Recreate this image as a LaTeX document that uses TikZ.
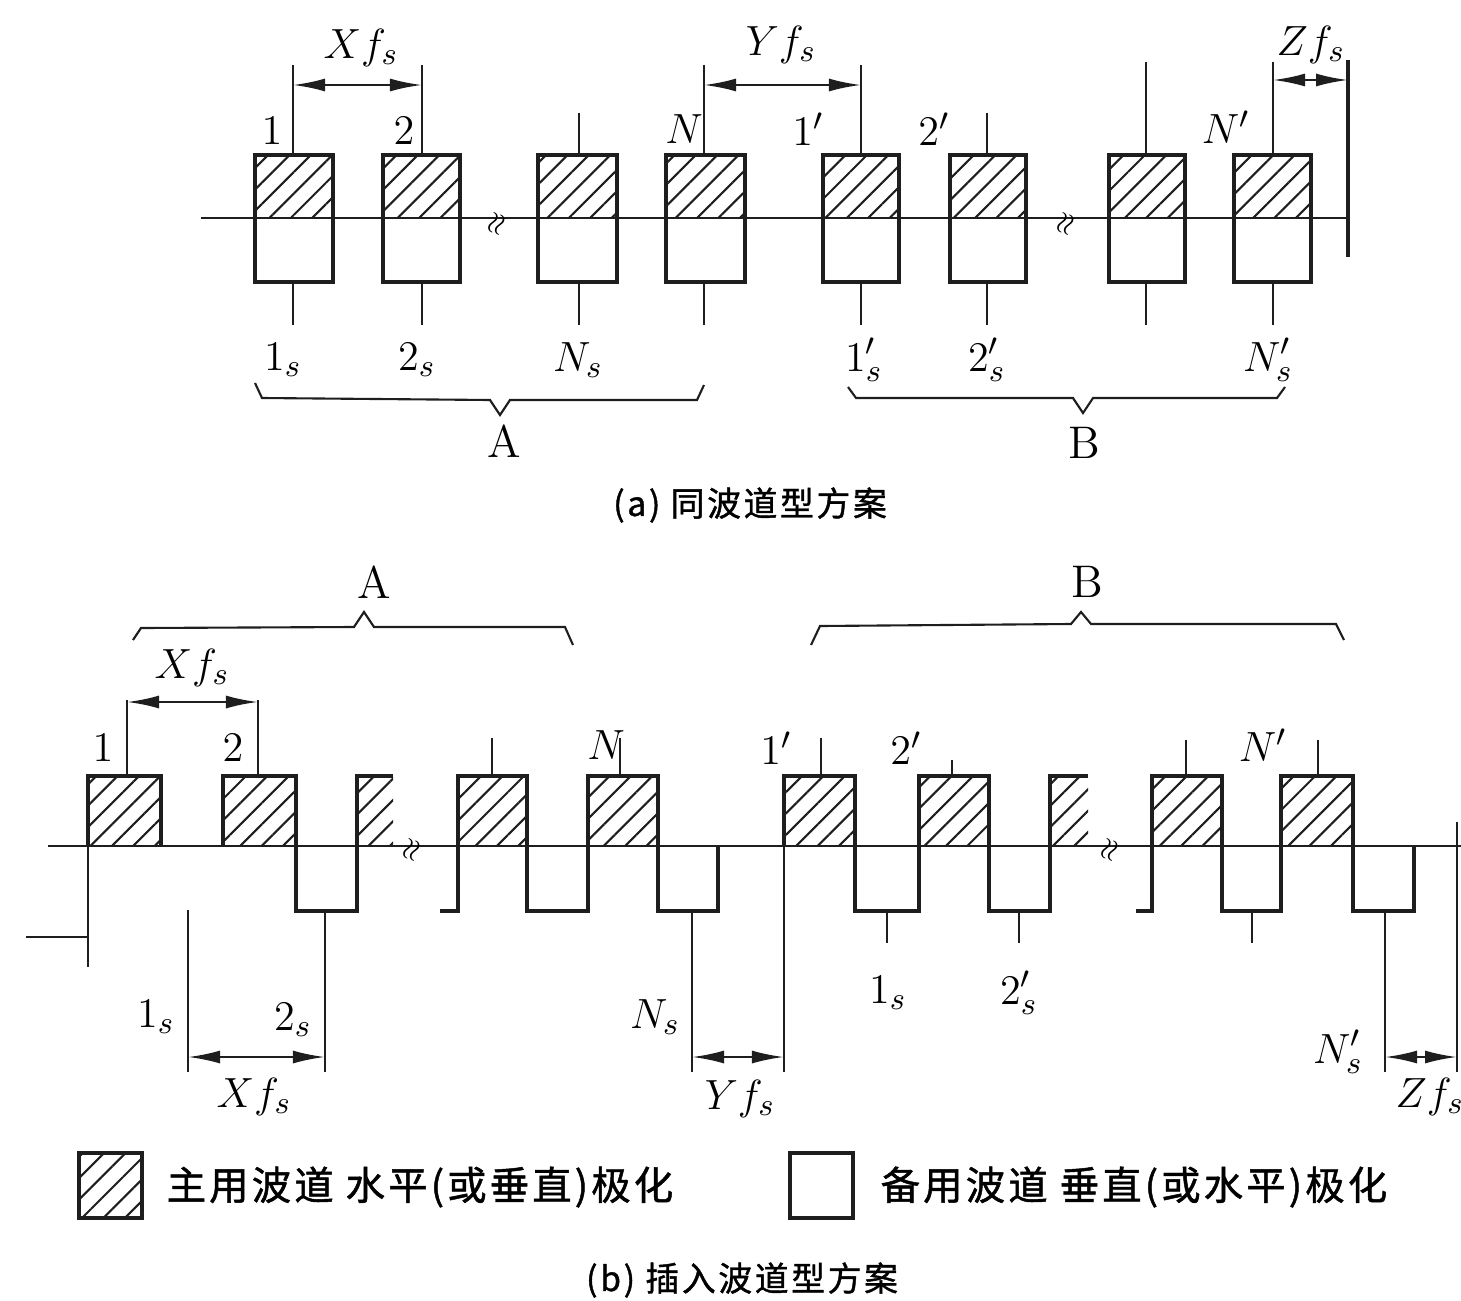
\documentclass[tikz,border=0pt]{standalone}
\usepackage{fontspec}
\newfontfamily\cjk[LetterSpace=8,FakeBold=1.2]{Noto Sans CJK SC}
\usetikzlibrary{arrows.meta,patterns.meta}
\definecolor{inkline}{HTML}{1E1E1E}

\begin{document}
\begin{tikzpicture}[x=0.01cm, y=-0.01cm,
  boxline/.style={draw=inkline, line width=1pt},
  axisline/.style={draw=inkline, line width=0.7pt},
  tickline/.style={draw=inkline, line width=0.6pt},
  hatch/.style={pattern={Lines[angle=45,distance=4.3pt,line width=0.6pt]}, pattern color=inkline},
  dimarrow/.style={{Latex[length=3.2mm,width=1.3mm]}-{Latex[length=3.2mm,width=1.3mm]}, draw=inkline, line width=0.7pt},
  lbl/.style={inner sep=0pt, font=\fontsize{13}{15}\selectfont},
  brk/.style={inner sep=0pt, font=\footnotesize, rotate=70},
  captext/.style={inner sep=0pt, font=\cjk\fontsize{9.6}{12}\selectfont},
  legtext/.style={inner sep=0pt, anchor=west, font=\cjk\fontsize{11.2}{14}\selectfont}]

  \useasboundingbox (0,0) rectangle (1461,1300);

  % (a) same-channel scheme: boxes across the axis
  \foreach \l/\r/\t/\h in {255/333/293/65, 383/460/422/65, 538/617/579/113, 666/745/704/65,
                            823/899/861/65, 950/1026/987/113, 1109/1185/1146/62, 1234/1311/1273/62}{
    \fill[hatch] (\l,155) rectangle (\r,218);
    \draw[boxline] (\l,155) rectangle (\r,282);
    \draw[tickline] (\t,\h) -- (\t,155);
    \draw[tickline] (\t,282) -- (\t,325);
  }
  \draw[axisline] (201,218) -- (1348,218);
  \draw[boxline] (1348,60) -- (1348,257);
  \node[brk] (brka1) at (497,224) {$\approx$};
  \node[brk] (brka2) at (1066,224) {$\approx$};

  % (a) spacings
  \coordinate (xa1) at (293,85);
  \coordinate (xa2) at (422,85);
  \coordinate (ya1) at (704,85);
  \coordinate (ya2) at (861,85);
  \coordinate (za1) at (1273,80);
  \coordinate (za2) at (1348,80);
  \draw[dimarrow] (xa1) -- (xa2);
  \draw[dimarrow] (ya1) -- (ya2);
  \draw[dimarrow] (za1) -- (za2);
  \node[lbl] (xfa) at (361,48) {$Xf_s$};
  \node[lbl] (yfa) at (781,45) {$Yf_s$};
  \node[lbl] (zfa) at (1311,45) {$Zf_s$};

  % (a) channel labels
  \node[lbl] (a1) at (272,131) {$1$};
  \node[lbl] (a2) at (404,131) {$2$};
  \node[lbl] (aN) at (684,129) {$N$};
  \node[lbl] (a1p) at (808,129) {$1'$};
  \node[lbl] (a2p) at (934,129) {$2'$};
  \node[lbl] (aNp) at (1226,127) {$N'$};
  \node[lbl] (a1s) at (283,360) {$1_s$};
  \node[lbl] (a2s) at (417,360) {$2_s$};
  \node[lbl] (aNs) at (578,360) {$N_s$};
  \node[lbl] (a1ps) at (864,360) {$1'_s$};
  \node[lbl] (a2ps) at (987,360) {$2'_s$};
  \node[lbl] (aNps) at (1268,360) {$N'_s$};

  % (a) braces
  \draw[tickline] (255,383) -- (262,398) -- (490,400) -- (500,415) -- (510,400) -- (697,400) -- (704,385);
  \draw[tickline] (848,387) -- (856,398) -- (1073,398) -- (1083,413) -- (1093,398) -- (1277,398) -- (1285,387);
  \node[lbl] (grpa) at (504,441) {A};
  \node[lbl] (grpb) at (1084,443) {B};
  \node[captext] (capa) at (750,505) {(a) 同波道型方案};

  % (b) interleaved scheme: hatched boxes above the axis
  \foreach \l/\r/\t/\h in {88/161/127/700, 223/296/258/700, 458/527/492/738, 588/658/620/738,
                            784/855/821/738, 919/989/952/760, 1152/1222/1186/740, 1281/1353/1318/740}{
    \fill[hatch] (\l,776) rectangle (\r,846);
    \draw[boxline] (\l,846) -- (\l,776) -- (\r,776) -- (\r,846);
    \draw[tickline] (\t,\h) -- (\t,776);
  }
  % cut boxes before the breaks
  \fill[hatch] (357,776) rectangle (393,846);
  \draw[boxline] (357,846) -- (357,776) -- (393,776);
  \fill[hatch] (1050,776) rectangle (1088,846);
  \draw[boxline] (1050,846) -- (1050,776) -- (1088,776);

  % (b) white boxes below the axis
  \foreach \l/\r in {296/357, 527/588, 658/718, 855/919, 989/1050, 1222/1281, 1353/1414}{
    \draw[boxline] (\l,846) -- (\l,911) -- (\r,911) -- (\r,846);
  }
  \draw[boxline] (440,911) -- (458,911) -- (458,846);
  \draw[boxline] (1136,911) -- (1152,911) -- (1152,846);
  \foreach \t in {887, 1019, 1252}{
    \draw[tickline] (\t,911) -- (\t,943);
  }
  \foreach \t in {325, 692, 1385}{
    \draw[tickline] (\t,911) -- (\t,1072);
  }
  \draw[axisline] (48,846) -- (1461,846);
  \draw[tickline] (88,846) -- (88,967);
  \draw[tickline] (26,937) -- (88,937);
  \draw[tickline] (188,910) -- (188,1072);
  \draw[tickline] (784,846) -- (784,1072);
  \draw[tickline] (1457,822) -- (1457,1072);
  \node[brk] (brkb1) at (412,850) {$\approx$};
  \node[brk] (brkb2) at (1110,850) {$\approx$};

  % (b) spacings
  \coordinate (xb1) at (127,702);
  \coordinate (xb2) at (258,702);
  \coordinate (xc1) at (188,1057);
  \coordinate (xc2) at (325,1057);
  \coordinate (yb1) at (692,1057);
  \coordinate (yb2) at (784,1057);
  \coordinate (zb1) at (1385,1057);
  \coordinate (zb2) at (1457,1057);
  \draw[dimarrow] (xb1) -- (xb2);
  \draw[dimarrow] (xc1) -- (xc2);
  \draw[dimarrow] (yb1) -- (yb2);
  \draw[dimarrow] (zb1) -- (zb2);
  \node[lbl] (xfb) at (192,668) {$Xf_s$};
  \node[lbl] (xfc) at (254,1097) {$Xf_s$};
  \node[lbl] (yfb) at (740,1099) {$Yf_s$};
  \node[lbl] (zfb) at (1430,1097) {$Zf_s$};

  % (b) channel labels
  \node[lbl] (b1) at (103,748) {$1$};
  \node[lbl] (b2) at (233,748) {$2$};
  \node[lbl] (bN) at (606,745) {$N$};
  \node[lbl] (b1p) at (776,748) {$1'$};
  \node[lbl] (b2p) at (906,748) {$2'$};
  \node[lbl] (bNp) at (1263,745) {$N'$};
  \node[lbl] (b1s) at (156,1017) {$1_s$};
  \node[lbl] (b2s) at (293,1020) {$2_s$};
  \node[lbl] (bNs) at (655,1017) {$N_s$};
  \node[lbl] (b1ps) at (888,993) {$1_s$};
  \node[lbl] (b2ps) at (1019,993) {$2'_s$};
  \node[lbl] (bNps) at (1338,1052) {$N'_s$};

  % (b) braces
  \draw[tickline] (133,640) -- (141,628) -- (354,627) -- (364,612) -- (374,627) -- (565,627) -- (573,645);
  \draw[tickline] (811,645) -- (820,626) -- (1071,624) -- (1081,612) -- (1091,624) -- (1336,624) -- (1344,640);
  \node[lbl] (grpa2) at (374,582) {A};
  \node[lbl] (grpb2) at (1087,582) {B};

  % legend
  \fill[hatch] (79,1153) rectangle (142,1218);
  \draw[boxline] (79,1153) rectangle (142,1218);
  \node[legtext] (legmain) at (166,1187) {主用波道\ 水平(或垂直)极化};
  \draw[boxline] (790,1153) rectangle (853,1218);
  \node[legtext] (legspare) at (880,1187) {备用波道\ 垂直(或水平)极化};
  \node[captext] (capb) at (742,1280) {(b) 插入波道型方案};

\end{tikzpicture}
\end{document}
